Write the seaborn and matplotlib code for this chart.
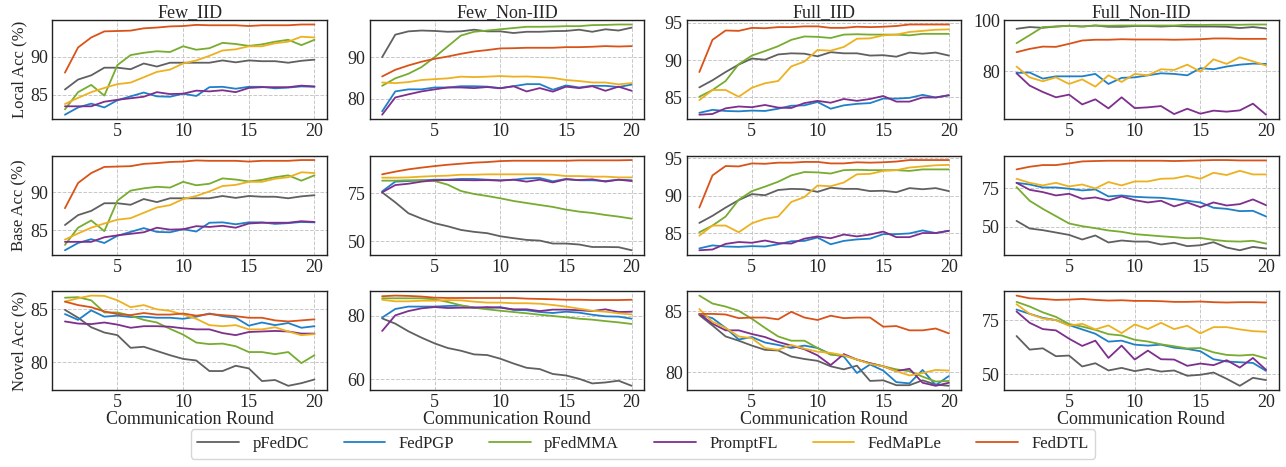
import numpy as np
import pandas as pd
import matplotlib
matplotlib.use("Agg")
import matplotlib.pyplot as plt
from matplotlib.ticker import MultipleLocator
import seaborn as sns

# ---------------------------------------------------------------
# Data (accuracy per communication round)
# ---------------------------------------------------------------
rounds = list(range(1, 21))
methods = ["pFedDC", "FedPGP", "pFedMMA", "PromptFL", "FedMaPLe", "FedDTL"]
colors = ["#606060", "#1f80c8", "#77ac30", "#7e2f8e", "#edb120", "#d95319"]
settings = ["Few_IID", "Few_Non-IID", "Full_IID", "Full_Non-IID"]
row_labels = ["Local Acc (%)", "Base Acc (%)", "Novel Acc (%)"]

few_iid_local = {
    "pFedDC":   [85.7, 87.0, 87.55, 88.55, 88.55, 88.35, 89.1, 88.7, 89.2, 89.2, 89.2, 89.2, 89.5, 89.25, 89.5, 89.4, 89.4, 89.2, 89.45, 89.6],
    "FedPGP":   [82.4, 83.35, 83.85, 83.35, 84.3, 84.8, 85.3, 84.8, 84.75, 85.15, 84.85, 86.0, 86.05, 85.8, 86.05, 86.05, 85.85, 85.95, 86.1, 86.05],
    "pFedMMA":  [83.1, 85.35, 86.3, 84.9, 88.9, 90.2, 90.5, 90.7, 90.6, 91.35, 90.9, 91.1, 91.8, 91.65, 91.4, 91.6, 91.95, 92.2, 91.5, 92.2],
    "PromptFL": [83.5, 83.5, 83.5, 84.1, 84.35, 84.55, 84.75, 85.35, 85.1, 85.15, 85.55, 85.45, 85.6, 85.35, 85.9, 86.0, 86.0, 86.0, 86.2, 86.1],
    "FedMaPLe": [83.8, 84.6, 85.35, 85.9, 86.4, 86.6, 87.3, 88.0, 88.3, 89.1, 89.5, 90.1, 90.8, 90.95, 91.35, 91.35, 91.75, 91.95, 92.6, 92.5],
    "FedDTL":   [87.9, 91.2, 92.5, 93.3, 93.35, 93.4, 93.7, 93.8, 93.95, 94.0, 94.15, 94.1, 94.1, 94.1, 94.0, 94.1, 94.1, 94.1, 94.2, 94.2],
}
few_noniid_local = {
    "pFedDC":   [90.0, 95.4, 96.2, 96.4, 96.3, 96.1, 96.2, 96.6, 96.2, 96.2, 95.8, 96.1, 96.1, 96.25, 96.3, 96.6, 96.1, 96.7, 96.4, 97.1],
    "FedPGP":   [76.95, 81.75, 82.25, 82.25, 82.7, 82.7, 83.0, 83.0, 82.9, 82.55, 83.0, 83.5, 83.5, 82.15, 83.2, 82.7, 83.1, 83.1, 82.8, 83.4],
    "pFedMMA":  [83.1, 84.9, 86.0, 87.6, 90.0, 92.6, 95.2, 96.1, 96.4, 96.7, 97.0, 97.3, 97.3, 97.35, 97.45, 97.45, 97.7, 97.75, 97.85, 97.85],
    "PromptFL": [76.15, 80.3, 81.05, 81.75, 82.25, 82.7, 82.7, 82.55, 82.8, 82.5, 83.0, 81.75, 82.55, 81.7, 82.9, 82.55, 83.0, 81.9, 82.9, 81.9],
    "FedMaPLe": [83.9, 83.75, 84.0, 84.5, 84.7, 84.9, 85.3, 85.2, 85.3, 85.45, 85.3, 85.35, 85.2, 85.0, 84.5, 84.25, 83.9, 83.9, 83.45, 83.75],
    "FedDTL":   [85.35, 86.95, 88.0, 88.9, 89.6, 90.15, 90.8, 91.35, 91.7, 92.1, 92.15, 92.25, 92.25, 92.25, 92.4, 92.4, 92.5, 92.65, 92.55, 92.65],
}
full_iid_local = {
    "pFedDC":   [86.35, 87.3, 88.4, 89.4, 90.2, 90.05, 90.75, 90.9, 90.85, 90.5, 91.05, 90.9, 90.9, 90.6, 90.65, 90.45, 91.0, 90.85, 91.0, 90.6],
    "FedPGP":   [82.95, 83.35, 83.2, 83.15, 83.25, 83.2, 83.5, 83.9, 83.95, 84.4, 83.5, 83.95, 84.15, 84.25, 84.85, 84.85, 84.95, 85.35, 85.0, 85.3],
    "pFedMMA":  [85.1, 86.0, 87.2, 89.45, 90.6, 91.2, 91.85, 92.7, 93.15, 93.1, 92.95, 93.4, 93.45, 93.4, 93.4, 93.4, 93.3, 93.5, 93.5, 93.5],
    "PromptFL": [82.7, 82.8, 83.55, 83.8, 83.7, 84.0, 83.65, 83.6, 84.25, 84.55, 84.3, 84.8, 84.55, 84.8, 85.2, 84.45, 84.45, 85.0, 85.0, 85.3],
    "FedMaPLe": [84.65, 86.0, 86.0, 85.1, 86.3, 86.9, 87.2, 89.15, 89.8, 91.35, 91.25, 91.75, 92.85, 92.9, 93.3, 93.4, 93.75, 93.9, 94.05, 94.1],
    "FedDTL":   [88.4, 92.7, 93.95, 93.9, 94.3, 94.25, 94.4, 94.4, 94.5, 94.5, 94.3, 94.3, 94.45, 94.4, 94.45, 94.55, 94.75, 94.75, 94.75, 94.75],
}
full_noniid_local = {
    "pFedDC":   [96.7, 97.4, 97.1, 97.6, 97.9, 97.6, 98.0, 97.5, 97.5, 97.8, 97.8, 97.6, 97.8, 97.6, 97.6, 97.6, 97.5, 97.0, 97.4, 96.85],
    "FedPGP":   [79.35, 79.5, 77.1, 78.0, 78.0, 78.0, 78.95, 75.0, 77.4, 77.6, 78.4, 79.2, 78.95, 78.4, 81.2, 80.8, 81.85, 82.6, 83.0, 82.9],
    "pFedMMA":  [91.05, 94.2, 97.4, 97.6, 97.9, 97.6, 98.0, 97.9, 98.0, 98.0, 98.0, 98.0, 98.0, 98.3, 98.2, 98.3, 98.3, 98.3, 98.4, 98.4],
    "PromptFL": [79.2, 74.35, 71.85, 69.75, 70.8, 66.95, 68.95, 65.4, 69.75, 65.5, 65.8, 66.3, 63.15, 65.25, 63.3, 64.5, 64.1, 64.6, 67.25, 62.9],
    "FedMaPLe": [81.85, 77.6, 76.05, 77.6, 75.0, 76.8, 73.95, 78.4, 75.8, 78.95, 78.4, 80.8, 80.5, 82.6, 79.85, 84.7, 82.9, 85.5, 83.9, 82.25],
    "FedDTL":   [87.5, 88.8, 89.7, 89.6, 90.8, 92.1, 92.4, 92.4, 92.6, 92.5, 92.5, 92.5, 92.4, 92.5, 92.6, 92.9, 92.9, 92.75, 92.75, 92.75],
}

# base accuracy: the IID panels repeat the local curves in the source figure
few_iid_base = few_iid_local
full_iid_base = full_iid_local
few_noniid_base = {
    "pFedDC":   [75.5, 70.3, 64.6, 61.8, 59.4, 57.8, 55.9, 54.9, 54.2, 52.6, 51.6, 50.7, 50.35, 48.8, 48.8, 48.3, 47.0, 47.0, 46.9, 45.3],
    "FedPGP":   [76.0, 81.1, 81.4, 81.8, 82.1, 82.1, 82.5, 82.5, 82.1, 81.8, 82.1, 82.8, 83.0, 81.25, 82.5, 81.8, 81.8, 81.4, 82.1, 81.8],
    "pFedMMA":  [81.6, 81.6, 81.8, 81.8, 81.4, 79.5, 76.2, 74.65, 73.6, 72.4, 71.0, 69.95, 68.9, 67.9, 66.5, 65.45, 64.75, 63.7, 62.85, 61.8],
    "PromptFL": [75.5, 79.3, 80.0, 81.1, 81.8, 81.9, 81.9, 81.8, 81.9, 81.6, 82.1, 81.1, 82.1, 80.7, 82.3, 81.9, 82.3, 81.1, 82.1, 81.4],
    "FedMaPLe": [83.15, 83.15, 83.3, 83.7, 84.0, 84.2, 84.7, 84.7, 84.9, 84.9, 84.9, 84.9, 84.9, 84.7, 84.0, 84.0, 83.7, 83.7, 83.3, 83.3],
    "FedDTL":   [84.9, 86.3, 87.5, 88.4, 89.2, 89.9, 90.45, 91.0, 91.3, 91.8, 92.0, 92.0, 92.0, 92.0, 92.0, 92.2, 92.2, 92.2, 92.2, 92.35],
}
full_noniid_base = {
    "pFedDC":   [53.7, 48.7, 47.6, 46.05, 44.5, 41.45, 44.1, 39.5, 40.8, 40.1, 40.1, 38.2, 39.3, 37.1, 37.7, 39.7, 36.2, 34.4, 36.6, 35.5],
    "FedPGP":   [78.7, 77.6, 75.65, 75.65, 74.8, 73.7, 74.35, 69.75, 70.4, 69.5, 69.1, 68.85, 68.0, 66.9, 65.8, 62.3, 61.6, 60.1, 60.3, 56.6],
    "pFedMMA":  [75.9, 66.9, 61.6, 56.8, 52.0, 50.2, 48.9, 47.4, 46.5, 45.0, 44.3, 43.6, 43.0, 42.3, 42.5, 41.2, 40.35, 40.1, 40.6, 38.8],
    "PromptFL": [78.7, 74.1, 72.6, 70.4, 71.5, 68.2, 69.1, 67.1, 69.75, 67.3, 65.8, 66.9, 63.2, 65.8, 62.7, 65.8, 63.8, 64.7, 67.8, 64.0],
    "FedMaPLe": [81.35, 78.7, 77.0, 78.7, 76.3, 77.6, 75.0, 79.2, 77.0, 79.6, 79.6, 81.35, 81.6, 83.3, 81.35, 85.3, 83.8, 86.6, 84.2, 84.2],
    "FedDTL":   [87.5, 89.25, 90.35, 90.35, 91.45, 92.75, 93.0, 93.2, 93.2, 93.2, 93.2, 93.2, 93.0, 93.2, 93.4, 93.65, 93.65, 93.4, 93.4, 93.4],
}

few_iid_novel = {
    "pFedDC":   [84.95, 84.2, 83.3, 82.8, 82.55, 81.35, 81.45, 81.05, 80.65, 80.3, 80.15, 79.15, 79.15, 79.65, 79.4, 78.2, 78.3, 77.75, 78.0, 78.35],
    "FedPGP":   [84.55, 84.0, 84.9, 84.3, 84.4, 84.27, 84.3, 84.2, 84.2, 84.1, 84.3, 84.6, 84.35, 84.2, 83.45, 83.75, 83.5, 83.7, 83.25, 83.4],
    "pFedMMA":  [86.1, 86.15, 85.85, 84.7, 84.7, 84.4, 84.0, 83.75, 83.15, 82.6, 81.85, 81.7, 81.75, 81.5, 80.95, 80.95, 80.75, 80.95, 79.9, 80.65],
    "PromptFL": [83.85, 83.65, 83.6, 83.75, 83.55, 83.25, 83.4, 83.4, 83.35, 83.2, 83.1, 83.1, 82.75, 82.55, 82.85, 82.9, 82.95, 82.9, 82.7, 82.7],
    "FedMaPLe": [85.73, 86.05, 86.3, 86.27, 85.85, 85.2, 85.4, 85.0, 84.85, 84.5, 84.1, 83.5, 83.4, 83.5, 83.1, 83.1, 83.3, 82.9, 82.55, 82.65],
    "FedDTL":   [85.73, 85.4, 85.2, 84.8, 84.55, 84.45, 84.65, 84.5, 84.5, 84.6, 84.4, 84.55, 84.45, 84.35, 84.2, 84.2, 83.95, 83.85, 83.95, 84.05],
}
few_noniid_novel = {
    "pFedDC":   [79.15, 77.5, 75.1, 73.1, 71.3, 69.85, 69.0, 67.85, 67.65, 66.5, 65.0, 63.65, 63.25, 61.7, 61.25, 60.2, 58.75, 59.05, 59.6, 58.0],
    "FedPGP":   [79.4, 82.1, 82.85, 82.85, 82.85, 83.05, 83.15, 82.6, 82.4, 82.7, 81.8, 81.7, 81.15, 80.85, 81.25, 80.95, 80.3, 79.8, 79.7, 79.05],
    "pFedMMA":  [85.45, 85.45, 85.45, 85.45, 85.15, 84.3, 83.25, 82.5, 82.0, 81.55, 81.15, 80.75, 80.3, 79.9, 79.5, 79.05, 78.75, 78.3, 77.9, 77.4],
    "PromptFL": [75.2, 80.1, 81.45, 82.3, 82.7, 82.4, 82.5, 82.5, 82.7, 82.5, 82.0, 82.0, 81.45, 81.9, 81.9, 81.7, 81.45, 82.0, 81.15, 81.25],
    "FedMaPLe": [85.0, 84.5, 84.5, 84.7, 84.7, 84.9, 84.8, 84.4, 84.1, 84.1, 83.9, 83.9, 83.75, 83.35, 82.85, 82.2, 81.55, 81.25, 80.75, 80.4],
    "FedDTL":   [86.1, 86.3, 86.2, 86.0, 85.65, 85.55, 85.55, 85.55, 85.55, 85.55, 85.55, 85.35, 85.25, 85.15, 85.0, 85.0, 84.9, 84.9, 84.9, 85.0],
}
full_iid_novel = {
    "pFedDC":   [84.7, 83.85, 82.95, 82.6, 82.2, 81.85, 81.8, 81.3, 81.1, 80.95, 80.5, 80.25, 80.55, 79.3, 79.35, 78.95, 78.95, 79.35, 79.0, 78.9],
    "FedPGP":   [84.75, 84.45, 83.65, 82.7, 82.9, 82.45, 82.25, 82.0, 82.2, 82.0, 81.5, 81.3, 79.95, 80.65, 80.15, 79.2, 79.1, 80.2, 78.95, 79.7],
    "pFedMMA":  [86.3, 85.65, 85.4, 85.05, 84.4, 83.65, 82.95, 82.6, 82.6, 82.0, 81.45, 81.4, 81.05, 80.75, 80.5, 80.25, 80.1, 79.65, 79.25, 79.3],
    "PromptFL": [84.8, 84.0, 83.45, 83.45, 83.15, 82.9, 82.5, 82.2, 81.9, 81.4, 80.6, 81.5, 81.05, 80.75, 80.5, 80.1, 80.3, 79.15, 78.9, 79.15],
    "FedMaPLe": [85.2, 84.15, 83.65, 82.95, 82.8, 82.0, 81.85, 82.25, 81.95, 81.7, 81.6, 81.4, 81.05, 80.7, 80.5, 80.1, 79.75, 79.95, 80.2, 80.15],
    "FedDTL":   [84.8, 84.8, 84.75, 84.45, 84.5, 84.5, 84.35, 84.97, 84.5, 84.3, 84.65, 84.45, 84.5, 84.5, 83.75, 83.8, 83.45, 83.45, 83.6, 83.2],
}
full_noniid_novel = {
    "pFedDC":   [67.65, 61.35, 61.95, 58.3, 58.6, 53.55, 55.05, 51.7, 52.9, 51.4, 52.45, 51.2, 51.7, 49.25, 49.7, 50.75, 47.85, 44.6, 48.3, 47.25],
    "FedPGP":   [79.9, 77.9, 76.05, 75.0, 72.7, 70.7, 68.7, 65.05, 65.5, 63.65, 63.2, 63.65, 62.25, 61.65, 60.6, 56.9, 55.85, 55.5, 55.2, 51.5],
    "pFedMMA":  [83.45, 81.3, 78.6, 76.5, 73.2, 72.0, 70.5, 68.5, 67.9, 65.9, 65.1, 63.8, 62.9, 61.9, 62.1, 60.1, 58.9, 58.6, 59.0, 57.3],
    "PromptFL": [79.0, 73.75, 70.85, 70.25, 66.4, 63.05, 65.5, 57.5, 63.2, 56.75, 60.9, 56.9, 56.75, 53.85, 54.9, 54.15, 56.45, 53.05, 57.5, 52.0],
    "FedMaPLe": [82.35, 77.9, 75.75, 75.0, 72.4, 73.3, 70.7, 72.55, 69.0, 73.0, 70.85, 73.75, 70.85, 72.4, 68.85, 71.75, 71.75, 70.7, 69.9, 69.6],
    "FedDTL":   [86.35, 85.1, 84.8, 84.35, 84.5, 84.8, 84.35, 84.05, 84.2, 83.9, 83.9, 83.75, 83.45, 83.45, 83.6, 83.3, 83.15, 83.3, 83.3, 83.15],
}

panels = [
    [few_iid_local, few_noniid_local, full_iid_local, full_noniid_local],
    [few_iid_base, few_noniid_base, full_iid_base, full_noniid_base],
    [few_iid_novel, few_noniid_novel, full_iid_novel, full_noniid_novel],
]
# y tick spacing per panel
ytick_step = [[5, 10, 5, 20], [5, 25, 5, 25], [5, 20, 5, 25]]

# ---------------------------------------------------------------
# Plot
# ---------------------------------------------------------------
sns.set_theme(style="white")
plt.rcParams["font.family"] = ["Liberation Serif", "DejaVu Serif"]

fig, axes = plt.subplots(3, 4, figsize=(12.86, 4.67), dpi=100)
fig.subplots_adjust(left=0.0408, right=0.9942, top=0.9572, bottom=0.1642,
                    wspace=0.1556, hspace=0.366)

palette = dict(zip(methods, colors))

for i in range(3):
    for j in range(4):
        ax = axes[i, j]
        data = panels[i][j]
        df = pd.DataFrame([
            {"Round": r, "Acc": v, "Method": m}
            for m in methods for r, v in zip(rounds, data[m])
        ])
        sns.lineplot(data=df, x="Round", y="Acc", hue="Method",
                     hue_order=methods, palette=palette, ax=ax,
                     linewidth=1.3, legend=(i == 0 and j == 0))
        ax.xaxis.set_major_locator(MultipleLocator(5))
        ax.yaxis.set_major_locator(MultipleLocator(ytick_step[i][j]))
        ax.grid(True, linestyle="--", linewidth=0.7, color="#c8c8c8")
        ax.tick_params(axis="both", labelsize=13, length=0, pad=3)
        for s in ax.spines.values():
            s.set_color("#222222")
            s.set_linewidth(1.0)
        ax.set_xlabel("Communication Round" if i == 2 else "", fontsize=13, labelpad=0)
        ax.set_ylabel(row_labels[i] if j == 0 else "", fontsize=12, labelpad=2)
        if i == 0:
            ax.set_title(settings[j], fontsize=13, pad=2)

handles, labels = axes[0, 0].get_legend_handles_labels()
axes[0, 0].get_legend().remove()
fig.legend(handles, labels, loc="lower center", bbox_to_anchor=(0.5, 0.0),
           ncol=6, fontsize=12, frameon=True, handlelength=2.5,
           columnspacing=2.1, edgecolor="#cccccc", fancybox=True,
           borderpad=0.4)

fig.savefig("out.png", dpi=100)
